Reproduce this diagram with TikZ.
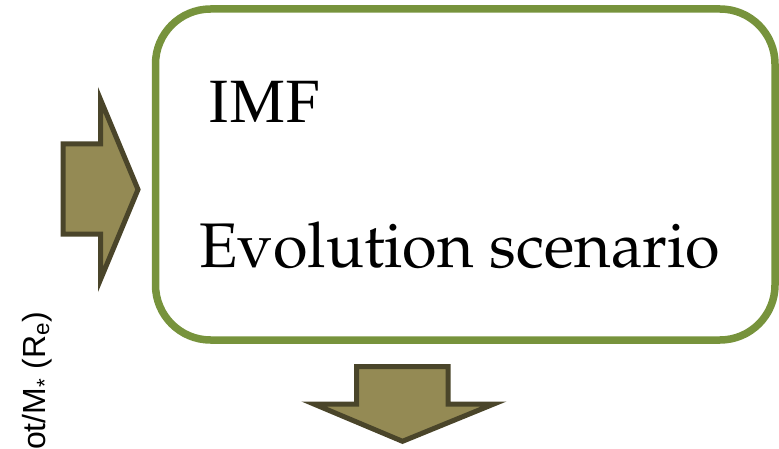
\documentclass[tikz,border=0pt]{standalone}
\usepackage{fontspec}
\setmainfont{Liberation Serif}
\newfontfamily\labelfont{Liberation Sans}
\usetikzlibrary{positioning}
\definecolor{boxgreen}{HTML}{77933C}
\definecolor{arrowfill}{HTML}{948A54}
\definecolor{arrowline}{HTML}{4A452A}
\tikzset{
    mybox/.style = {rectangle, rounded corners=55pt, draw=boxgreen, line width=7.5pt, minimum width=619.5pt, minimum height=331pt, inner sep=0pt},
    imftext/.style = {anchor=base west, inner sep=0pt, font=\fontsize{63}{70}\selectfont},
    evoltext/.style = {anchor=base west, inner sep=0pt, font=\fontsize{63}{70}\usefont{OT1}{ppl}{m}{n}},
    fatarrow/.style = {fill=arrowfill, draw=arrowline, line width=5pt}, % block arrows
    axislabel/.style = {rotate=90, anchor=base east, inner sep=0pt, font=\labelfont\fontsize{32}{32}\selectfont}
}
\begin{document}
\begin{tikzpicture}[x=1pt,y=1pt]
  \useasboundingbox (0,0) rectangle (779,448);
  \clip (0,0) rectangle (779,448);

  \node[mybox] (box) at (465.25,273.5) {};
  \node[imftext] (imf) at (208,325) {IMF};
  \node[evoltext] (evol) at (199,181) {Evolution scenario};

  \node[axislabel] (ylab) at (45.5,136) {ot/M\textsubscript{*} (R\textsubscript{e})};

  % arrow into the box
  \draw[fatarrow] (63,304) -- (100.5,304) -- (100.5,348.5) -- (138,258.5)
    -- (100.5,168.5) -- (100.5,214) -- (63,214) -- cycle;
  % arrow out of the box
  \draw[fatarrow] (356.5,81.5) -- (448,81.5) -- (448,44) -- (493.8,44)
    -- (402.5,6.7) -- (313.8,44) -- (356.5,44) -- cycle;
\end{tikzpicture}
\end{document}
